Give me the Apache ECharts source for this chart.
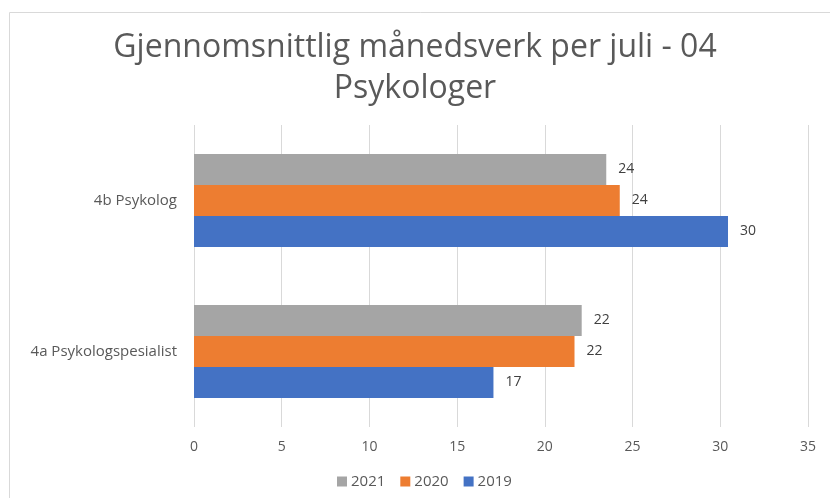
<!DOCTYPE html>
<html>
<head>
<meta charset="utf-8">
<script src="https://cdn.jsdelivr.net/npm/echarts@6/dist/echarts.min.js"></script>
<style>
  html, body { margin: 0; padding: 0; background: #fff; }
  #chart { width: 830px; height: 498px; }
</style>
</head>
<body>
<div id="chart"></div>
<script>
// kategorier (nederst først, slik ECharts legger dem på y-aksen)
const categories = ["4a Psykologspesialist", "4b Psykolog"];
const years = ["2021", "2020", "2019"];
const values2019 = [17.07, 30.44];
const values2020 = [21.69, 24.27];
const values2021 = [22.1, 23.5];
const xTicks = [0, 5, 10, 15, 20, 25, 30, 35];

const colors = { "2019": "#4472C4", "2020": "#ED7D31", "2021": "#A5A5A5" };
const font = "Open Sans";

const chartDom = document.getElementById("chart");
const myChart = echarts.init(chartDom);

const makeSeries = (name, data) => ({
  name: name,
  type: "bar",
  data: data,
  barWidth: 31,
  barGap: "0%",
  itemStyle: { color: colors[name] },
  label: {
    show: true,
    position: "right",
    distance: 12,
    color: "#404040",
    fontFamily: font,
    fontSize: 14,
    formatter: (p) => Math.round(p.value),
  },
});

const option = {
  animation: false,
  title: {
    text: "Gjennomsnittlig månedsverk per juli - 04\nPsykologer",
    left: "center",
    top: 22,
    textStyle: {
      color: "#595959",
      fontFamily: font,
      fontSize: 32,
      fontWeight: "normal",
      lineHeight: 41,
    },
  },
  legend: {
    data: years,
    top: 474,
    left: 337,
    padding: 0,
    icon: "rect",
    itemWidth: 10,
    itemHeight: 10,
    itemGap: 15,
    textStyle: { color: "#595959", fontFamily: font, fontSize: 15, padding: [0, 0, 0, -1] },
  },
  grid: {
    left: 194,
    right: 22,
    top: 125,
    bottom: 71,
  },
  xAxis: {
    type: "value",
    min: xTicks[0],
    max: xTicks[xTicks.length - 1],
    interval: 5,
    axisLine: { show: false },
    axisTick: { show: false },
    axisLabel: { color: "#595959", fontFamily: font, fontSize: 14, margin: 13 },
    splitLine: { lineStyle: { color: "#D9D9D9", width: 1 } },
  },
  yAxis: {
    type: "category",
    data: categories,
    axisLine: { show: false },
    axisTick: { show: false },
    axisLabel: { color: "#595959", fontFamily: font, fontSize: 15, margin: 17 },
  },
  graphic: [
    {
      type: "rect",
      shape: { x: 9.5, y: 12.5, width: 840, height: 500 },
      style: { fill: "none", stroke: "#D9D9D9", lineWidth: 1 },
      silent: true,
    },
  ],
  // serierekkefølge: første serie tegnes øverst i hver kategori
  series: [
    makeSeries("2021", values2021),
    makeSeries("2020", values2020),
    makeSeries("2019", values2019),
  ],
};

option && myChart.setOption(option);
</script>
</body>
</html>
